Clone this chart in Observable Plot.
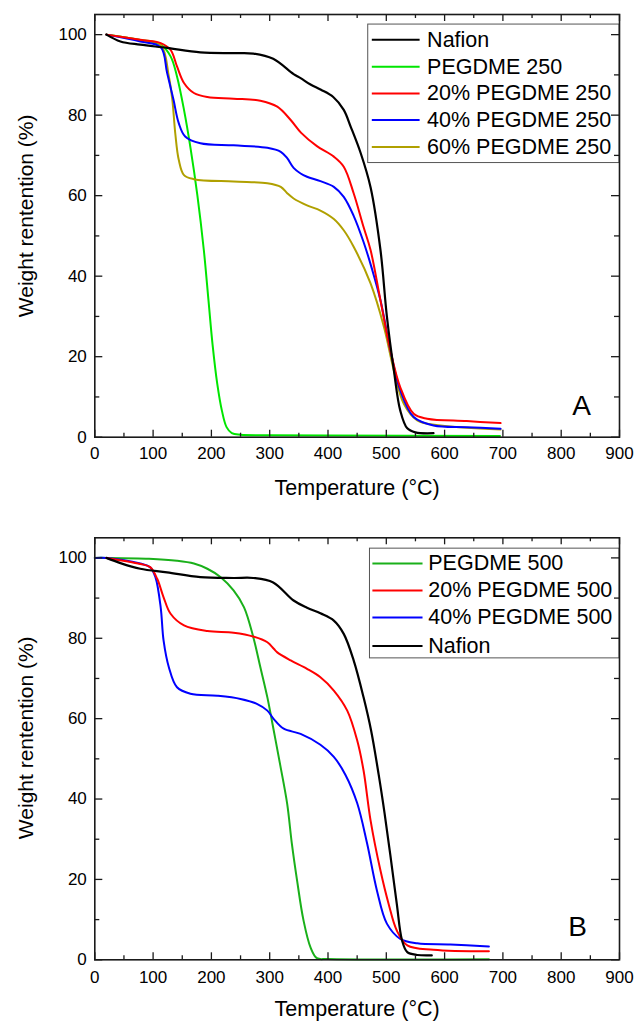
<!DOCTYPE html>
<html><head><meta charset="utf-8">
<script src="https://cdn.jsdelivr.net/npm/d3@7"></script>
<script src="https://cdn.jsdelivr.net/npm/@observablehq/plot@0.6"></script>
<style>body{margin:0;background:#fff} svg{display:block}</style>
</head><body><div id="chart"></div>
<script>
// ---------- tick values ----------
const xTicks = [0,100,200,300,400,500,600,700,800,900];
const xMinor = [50,150,250,350,450,550,650,750,850];
const yTicks = [0,20,40,60,80,100];
const yMinor = [10,30,50,70,90];

// ---------- Panel A data: [temperature °C, weight %] ----------
const nafionA = [[20,100],[44,98.3],[78,97.5],[124,96.7],[181,95.6],[238,95.4],[272,95.3],[306,94.0],[341,90.2],[353,89.2],[370,87.6],[388,86.3],[409,84.5],[427,81.3],[439,77.1],[456,70.6],[473,62.1],[490,46.5],[501,30],[513,16.6],[524,6.6],[536,2.2],[550,1.2],[581,1.0]];
const peg250 = [[20,100],[78,98.7],[113,97.5],[130,94.6],[141,89.6],[153,81.3],[164,72],[176,60],[187,46.5],[195,34],[202,23],[210,13.3],[218,6.6],[226,2.5],[235,1.0],[250,0.6],[300,0.5],[400,0.4],[695,0.3]];
const peg250_20 = [[20,100],[78,98.7],[113,97.9],[130,96.2],[141,92.1],[153,88.0],[170,85.5],[193,84.5],[238,84.1],[284,83.6],[313,82.1],[336,78.8],[354,75.6],[381,72.3],[410,69.7],[427,67.2],[444,60.6],[461,52.2],[473,46.5],[490,34],[507,21.6],[524,12.4],[547,5.8],[570,4.6],[638,4.0],[696,3.5]];
const peg250_40 = [[20,100],[78,98.3],[113,96.9],[124,90.5],[135,83.8],[144,78.0],[155,74.7],[181,73.0],[238,72.5],[296,71.9],[319,70.9],[330,69.3],[341,66.9],[353,65.5],[364,64.7],[387,63.6],[410,62.2],[427,59.7],[444,55],[461,48.5],[475,42],[490,34],[507,21.6],[524,11.6],[547,5.0],[581,2.9],[638,2.5],[696,2.1]];
const peg250_60 = [[20,100],[78,98.7],[113,97.5],[127,89.6],[133,83.8],[138,75.5],[144,68.9],[153,65.1],[170,64.1],[238,63.5],[296,63.1],[319,62.2],[330,60.6],[341,59.3],[364,57.6],[387,56.3],[410,54.2],[427,51.4],[444,47.3],[473,38.2],[496,27.4],[513,16.6],[530,8.3],[553,4.2],[593,2.9],[696,1.9]];

// ---------- Panel B data ----------
const peg500 = [[0,100],[20,100],[93,99.8],[141,99.3],[170,98.6],[193,97.3],[216,95.2],[238,91.9],[256,87.7],[272,80.2],[284,72.8],[296,65.3],[307,57.0],[318,48.5],[330,38.8],[338,28.9],[347,19.7],[358,9.8],[370,3.1],[381,0.4],[400,0.2],[676,0.15]];
const peg500_20 = [[20,100],[78,98.5],[95,97.7],[107,94.8],[118,90.2],[130,86.1],[153,83.2],[193,81.8],[238,81.4],[273,80.4],[296,79.0],[307,77.4],[313,76.5],[336,74.5],[364,72.4],[387,70.3],[410,67.0],[433,62.0],[450,54.6],[461,47.1],[473,34.7],[490,22.2],[504,13.9],[518,7.3],[536,3.6],[581,2.5],[676,2.1]];
const peg500_40 = [[0,100],[20,100],[78,98.6],[95,97.7],[104,95.2],[113,87.7],[118,79.4],[127,72.8],[141,67.8],[164,66.2],[210,65.7],[250,64.9],[278,63.7],[296,62.0],[307,59.9],[324,57.5],[353,56.2],[387,53.5],[410,50.5],[430,46],[450,39],[467,29],[484,17.2],[501,9.0],[524,5.2],[553,4.1],[610,3.8],[676,3.3]];
const nafionB = [[20,100],[44,98.7],[78,97.3],[124,96.4],[181,95.2],[238,95.0],[272,95.0],[306,93.9],[341,89.4],[364,87.6],[387,86.2],[410,84.4],[427,81.1],[444,74.5],[461,65.3],[474,57],[487,46],[497,36.5],[507,26],[518,13.9],[527,4.8],[536,1.9],[553,1.2],[578,1.1]];

// ---------- names / colours ----------
const namesA = ["Nafion","PEGDME 250","20% PEGDME 250","40% PEGDME 250","60% PEGDME 250"];
const colorsA = ["#000000","#00e600","#ff0000","#0000ff","#b0a000"];
const dataA = [nafionA, peg250, peg250_20, peg250_40, peg250_60];
const namesB = ["PEGDME 500","20% PEGDME 500","40% PEGDME 500","Nafion"];
const colorsB = ["#1ab01a","#ff0000","#0000ff","#000000"];
const dataB = [peg500, peg500_20, peg500_40, nafionB];

const FONT = "'Liberation Sans', Arial, Helvetica, sans-serif";

function panel(o) {
  const W = 637, mL = 94.3, mR = 18;
  const frameH = o.height - o.marginTop - o.marginBottom;
  const frameW = W - mL - mR;
  const ink = "#1a1a1a";
  const marks = [];
  marks.push(Plot.rect([0], {x1: o.leg.x1, x2: 900, y1: o.leg.y1, y2: o.leg.y2, fill: "white", stroke: "#555", strokeWidth: 1}));
  o.order.forEach(i => {
    marks.push(Plot.line(o.data[i], {x: d => d[0], y: d => d[1], stroke: o.colors[i], strokeWidth: i === o.blackIdx ? 2.2 : 2, curve: "catmull-rom"}));
  });
  o.names.forEach((n, i) => {
    marks.push(Plot.ruleY([o.leg.rows[i]], {y: d => d, x1: o.leg.lx1, x2: o.leg.lx2, stroke: o.colors[i], strokeWidth: 2}));
    marks.push(Plot.text([n], {x: o.leg.tx, y: o.leg.rows[i], text: d => d, textAnchor: "start", lineAnchor: "middle", fontSize: 21.5, fill: "#000"}));
  });
  marks.push(Plot.tickX(xTicks, {x: d => d, insetTop: frameH - 7, stroke: ink, strokeWidth: 1.3}));
  marks.push(Plot.tickX(xMinor, {x: d => d, insetTop: frameH - 4, stroke: ink, strokeWidth: 1.3}));
  marks.push(Plot.tickX(xTicks, {x: d => d, insetBottom: frameH - 7, stroke: ink, strokeWidth: 1.3}));
  marks.push(Plot.tickX(xMinor, {x: d => d, insetBottom: frameH - 4, stroke: ink, strokeWidth: 1.3}));
  marks.push(Plot.tickY(yTicks, {y: d => d, insetRight: frameW - 8, stroke: ink, strokeWidth: 1.3}));
  marks.push(Plot.tickY(yMinor, {y: d => d, insetRight: frameW - 5, stroke: ink, strokeWidth: 1.3}));
  marks.push(Plot.tickY(yTicks, {y: d => d, insetLeft: frameW - 8, stroke: ink, strokeWidth: 1.3}));
  marks.push(Plot.tickY(yMinor, {y: d => d, insetLeft: frameW - 5, stroke: ink, strokeWidth: 1.3}));
  marks.push(Plot.frame({stroke: ink, strokeWidth: 1.6}));
  marks.push(Plot.axisX(xTicks, {tickSize: 0, tickPadding: o.xPad, fontSize: 17, label: null}));
  marks.push(Plot.axisY(yTicks, {tickSize: 0, tickPadding: 8, fontSize: 17, label: null}));
  marks.push(Plot.text(["Temperature (°C)"], {frameAnchor: "bottom", dy: o.xLabelDy, text: d => d, fontSize: 21.5, textAnchor: "middle", lineAnchor: "middle", fill: "#000"}));
  marks.push(Plot.text(["Weight rentention (%)"], {frameAnchor: "left", rotate: -90, dx: -69, dy: o.yLabelDy, text: d => d, fontSize: 21, textAnchor: "middle", lineAnchor: "middle", fill: "#000"}));
  marks.push(Plot.text([o.letter], {x: o.letterPos[0], y: o.letterPos[1], text: d => d, fontSize: 28, lineAnchor: "bottom", textAnchor: "middle", fill: "#000"}));
  return Plot.plot({
    width: W, height: o.height,
    marginLeft: mL, marginRight: mR, marginTop: o.marginTop, marginBottom: o.marginBottom,
    x: {domain: [0, 900]},
    y: {domain: [0, 105]},
    style: {fontFamily: FONT, background: "white", color: "#000", overflow: "visible"},
    marks
  });
}

const root = document.getElementById("chart");
root.appendChild(panel({
  height: 510, marginTop: 14, marginBottom: 73.3,
  data: dataA, names: namesA, colors: colorsA, order: [1,4,3,2,0], blackIdx: 0,
  leg: {x1: 469, y1: 68.1, y2: 102.5, lx1: 476, lx2: 558, tx: 570, rows: [98.75, 92.05, 85.35, 78.8, 72.1]},
  letter: "A", letterPos: [835, 5.4], xPad: 10, xLabelDy: 51, yLabelDy: -10
}));
root.appendChild(panel({
  height: 512, marginTop: 27.3, marginBottom: 62.7,
  data: dataB, names: namesB, colors: colorsB, order: [0,2,1,3], blackIdx: 3,
  leg: {x1: 472, y1: 75.0, y2: 102.3, lx1: 477, lx2: 563, tx: 572, rows: [98.6, 91.9, 85.2, 78.1]},
  letter: "B", letterPos: [828, 6.0], xPad: 11, xLabelDy: 49, yLabelDy: -11
}));
</script>
</body></html>
